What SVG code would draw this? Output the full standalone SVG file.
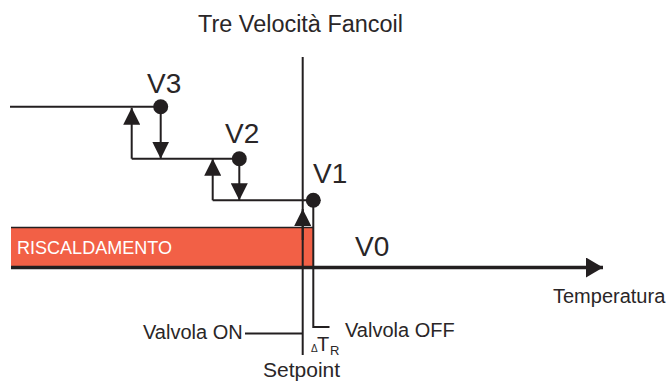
<svg xmlns="http://www.w3.org/2000/svg" width="671" height="381" viewBox="0 0 671 381">
<style>
.ln{stroke:#231f20;stroke-width:2;fill:none}
.ax{stroke:#231f20;stroke-width:3.5;fill:none}
.t{font-family:"Liberation Sans",Arial,sans-serif;fill:#2a2627}
.v{font-size:28px}
.s{font-size:20px}
.dot{fill:#231f20}
</style>
<defs>
<marker id="ah" viewBox="0 0 17 17" refX="17" refY="8.5" markerWidth="17" markerHeight="17" markerUnits="userSpaceOnUse" orient="auto">
<path d="M0,0 L17,8.5 L0,17 Z" fill="#231f20"/>
</marker>
<marker id="ahx" viewBox="0 0 17 20" refX="17" refY="10" markerWidth="17" markerHeight="20" markerUnits="userSpaceOnUse" orient="auto">
<path d="M0,0 L17,10 L0,20 Z" fill="#231f20"/>
</marker>
</defs>
<rect width="671" height="381" fill="#ffffff"/>
<text class="t" x="198" y="32" font-size="23" textLength="205" lengthAdjust="spacingAndGlyphs">Tre Velocità Fancoil</text>

<g id="riscaldamento">
<rect x="11" y="227.5" width="302" height="40" fill="#F26046"/>
<line x1="11" y1="227.5" x2="313" y2="227.5" stroke="#231f20" stroke-width="1.5"/>
<text x="17" y="254" font-family="'Liberation Sans',Arial,sans-serif" font-size="18.5" fill="#ffffff" textLength="155" lengthAdjust="spacingAndGlyphs">RISCALDAMENTO</text>
</g>

<g id="connectors">
<line class="ln" x1="10" y1="106.7" x2="160.7" y2="106.7"/>
<path class="ln" d="M160.7,106.7 V158.7" marker-end="url(#ah)"/>
<path class="ln" d="M131.7,158.7 V107.7" marker-end="url(#ah)"/>
<line class="ln" x1="131.7" y1="158.7" x2="239.3" y2="158.7"/>
<path class="ln" d="M239.3,158.7 V200.3" marker-end="url(#ah)"/>
<path class="ln" d="M212.7,200.3 V158.7" marker-end="url(#ah)"/>
<line class="ln" x1="212.7" y1="200.3" x2="313.3" y2="200.3"/>
<line class="ln" x1="302.7" y1="57" x2="302.7" y2="355"/>
<path class="ln" d="M302.7,240 V209" marker-end="url(#ah)"/>
<path class="ln" d="M313.3,200.3 V327 H329.5"/>
<line class="ln" x1="245" y1="333.5" x2="302.7" y2="333.5"/>
<path class="ax" d="M11,267.5 H603" marker-end="url(#ahx)"/>
</g>

<g id="V3">
<circle class="dot" cx="160.7" cy="106.7" r="7.5"/>
<text class="t v" x="147" y="93">V3</text>
</g>
<g id="V2">
<circle class="dot" cx="239.3" cy="158.7" r="7.5"/>
<text class="t v" x="225" y="143">V2</text>
</g>
<g id="V1">
<circle class="dot" cx="313.3" cy="200.3" r="7.5"/>
<text class="t v" x="313" y="183">V1</text>
</g>
<g id="V0">
<text class="t v" x="355" y="256">V0</text>
</g>

<g id="labels">
<text class="t s" x="553" y="303">Temperatura</text>
<text class="t s" x="143" y="339">Valvola ON</text>
<text class="t s" x="345" y="337">Valvola OFF</text>
<text class="t" x="263" y="377" font-size="21">Setpoint</text>
<text class="t" x="311" y="352" font-size="10">Δ</text>
<text class="t" x="317" y="351" font-size="20">T</text>
<text class="t" x="330" y="355" font-size="13">R</text>
</g>
</svg>
